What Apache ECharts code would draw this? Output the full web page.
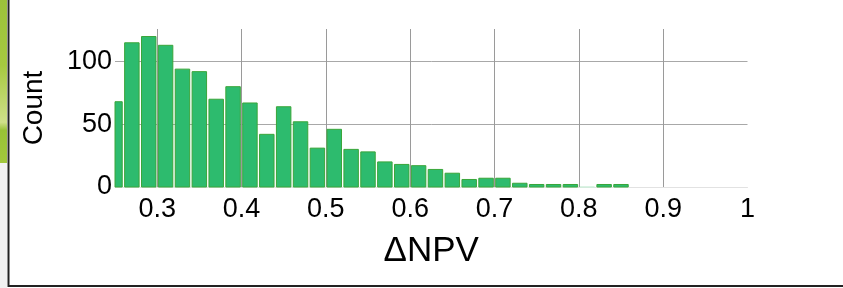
<!DOCTYPE html>
<html>
<head>
<meta charset="utf-8">
<script src="https://cdn.jsdelivr.net/npm/echarts@6/dist/echarts.min.js"></script>
<style>
  html, body { margin: 0; padding: 0; background: #fff; }
  #chart { width: 843px; height: 288px; }
</style>
</head>
<body>
<div id="chart"></div>
<script>
// histogram bins of width 0.02: left edges and counts
const binStarts = [0.24, 0.26, 0.28, 0.30, 0.32, 0.34, 0.36, 0.38, 0.40, 0.42, 0.44,
  0.46, 0.48, 0.50, 0.52, 0.54, 0.56, 0.58, 0.60, 0.62, 0.64, 0.66, 0.68, 0.70, 0.72,
  0.74, 0.76, 0.78, 0.80, 0.82, 0.84];
const binEnds = [0.26, 0.28, 0.30, 0.32, 0.34, 0.36, 0.38, 0.40, 0.42, 0.44, 0.46,
  0.48, 0.50, 0.52, 0.54, 0.56, 0.58, 0.60, 0.62, 0.64, 0.66, 0.68, 0.70, 0.72, 0.74,
  0.76, 0.78, 0.80, 0.82, 0.84, 0.86];
const counts = [68, 115, 120, 113, 94, 92, 70, 80, 67, 42, 64, 52, 31, 46, 30, 28, 20,
  18, 17, 14, 11, 6, 7, 7, 3, 2, 2, 2, 0, 2, 2];
const xRange = [0.25, 1];
const yTicks = [0, 50, 100];
const yMax = 126;

const chart = echarts.init(document.getElementById('chart'));
const font = 'Liberation Sans, Arial, sans-serif';

function renderBin(params, api) {
  const p0 = api.coord([api.value(0), 0]);
  const p1 = api.coord([api.value(1), api.value(2)]);
  const gap = 1.2;
  const rect = echarts.graphic.clipRectByRect({
    x: p0[0] + gap,
    y: p1[1],
    width: p1[0] - p0[0] - 2 * gap,
    height: p0[1] - p1[1]
  }, {
    x: params.coordSys.x,
    y: params.coordSys.y,
    width: params.coordSys.width,
    height: params.coordSys.height + 1
  });
  if (!rect) return null;
  const empty = api.value(2) === 0;
  return {
    type: 'rect',
    shape: rect,
    style: {
      fill: '#2dbb6e',
      stroke: empty ? '#cdeed9' : '#3aa63a',
      lineWidth: 1
    }
  };
}

const option = {
  animation: false,
  grid: { left: 115, right: 95.5, top: 29, bottom: 101 },
  xAxis: {
    type: 'value',
    min: xRange[0],
    max: xRange[1],
    splitNumber: 7,
    name: 'ΔNPV',
    nameLocation: 'middle',
    nameGap: 47,
    nameTextStyle: { fontFamily: font, fontSize: 35, color: '#000' },
    axisLine: { show: true, lineStyle: { color: '#e2e2e2', width: 1 } },
    axisTick: { show: false },
    axisLabel: {
      fontFamily: font, fontSize: 27, color: '#000', margin: 9,
      showMinLabel: false
    },
    splitLine: {
      show: true, showMinLine: false, showMaxLine: false,
      lineStyle: { color: '#9a9a9a', width: 1 }
    }
  },
  yAxis: {
    type: 'value',
    min: yTicks[0],
    max: yMax,
    interval: yTicks[1] - yTicks[0],
    name: 'Count',
    nameLocation: 'middle',
    nameGap: 67,
    nameTextStyle: { fontFamily: font, fontSize: 28, color: '#000' },
    axisLine: { show: false },
    axisTick: { show: false },
    axisLabel: {
      fontFamily: font, fontSize: 27, color: '#000', margin: 3,
      showMaxLabel: false
    },
    splitLine: {
      show: true, showMinLine: false, showMaxLine: false,
      lineStyle: { color: '#a8a8a8', width: 1 }
    }
  },
  graphic: [
    {
      type: 'rect', left: 0, top: 0, silent: true,
      shape: { width: 7, height: 163 },
      style: {
        fill: new echarts.graphic.LinearGradient(0, 0, 0, 1, [
          { offset: 0, color: '#9cc23a' },
          { offset: 0.4, color: '#a6c93f' },
          { offset: 0.75, color: '#cfe08a' },
          { offset: 0.8, color: '#98c236' },
          { offset: 1, color: '#a2c83c' }
        ])
      }
    },
    {
      type: 'rect', left: 0, top: 163, silent: true,
      shape: { width: 7, height: 125 },
      style: { fill: '#f2f2f2' }
    },
    {
      type: 'polyline', silent: true,
      shape: { points: [[8.5, 0], [8.5, 286], [843, 286]] },
      style: { stroke: '#222', lineWidth: 2, fill: null }
    }
  ],
  series: [{
    type: 'custom',
    renderItem: renderBin,
    encode: { x: [0, 1], y: 2 },
    data: binStarts.map((s, i) => [s, binEnds[i], counts[i]])
  }]
};

chart.setOption(option);
</script>
</body>
</html>
